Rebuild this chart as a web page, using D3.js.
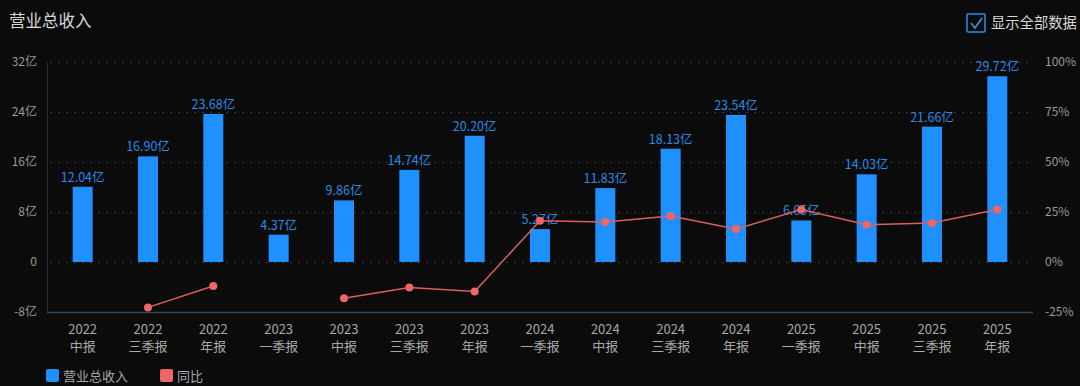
<!DOCTYPE html>
<html><head><meta charset="utf-8">
<script src="https://cdn.jsdelivr.net/npm/d3@7"></script>
<style>
html,body{margin:0;padding:0;background:#0b0b0b;}
svg{display:block;font-family:"Noto Sans CJK SC","Noto Sans",sans-serif;}
</style></head>
<body>
<svg id="c" width="1080" height="386"></svg>
<script>
const years = ["2022","2022","2022","2023","2023","2023","2023","2024","2024","2024","2024","2025","2025","2025","2025"];
const periods = ["中报","三季报","年报","一季报","中报","三季报","年报","一季报","中报","三季报","年报","一季报","中报","三季报","年报"];
const revenue = [12.04,16.90,23.68,4.37,9.86,14.74,20.20,5.27,11.83,18.13,23.54,6.65,14.03,21.66,29.72];
const yoy = [null,-22.7,-12.0,null,-18.1,-12.8,-14.7,20.6,20.0,23.0,16.5,26.2,18.6,19.5,26.3];
const leftTicks = [-8,0,8,16,24,32];
const rightTicks = [-25,0,25,50,75,100];

const svg = d3.select("#c");
svg.append("rect").attr("width",1080).attr("height",386).attr("fill","#0b0b0b");
const cats = years.map((y,i)=>i);
const x = d3.scaleBand().domain(cats).range([50,1030]);
const yL = d3.scaleLinear().domain([-8,32]).range([312,62]);
const yR = d3.scaleLinear().domain([-25,100]).range([312,62]);

// title
svg.append("text").attr("x",9).attr("y",27).attr("fill","#d8d8d8").attr("font-size",16.5).text("营业总收入");
// checkbox
svg.append("rect").attr("x",967).attr("y",14).attr("width",18).attr("height",18).attr("fill","none").attr("stroke","#2e8fe6").attr("stroke-width",1.5).attr("rx",1);
svg.append("path").attr("d","M971 23 L975 28 L982 18").attr("fill","none").attr("stroke","#2e8fe6").attr("stroke-width",1.8);
svg.append("text").attr("x",991).attr("y",28).attr("fill","#d8d8d8").attr("font-size",14.3).text("显示全部数据");

// grid
svg.append("g").selectAll("line").data(leftTicks.slice(1)).join("line")
  .attr("x1",50).attr("x2",1030).attr("y1",d=>yL(d)+0.5).attr("y2",d=>yL(d)+0.5)
  .attr("stroke","#3a3a3a").attr("stroke-dasharray","2,6");

// left axis
const gl = svg.append("g").attr("transform","translate(47,0)")
  .call(d3.axisLeft(yL).tickValues(leftTicks).tickSize(0).tickPadding(10).tickFormat(d=>d===0?"0":d+"亿"));
gl.select(".domain").attr("stroke","#26313d");
gl.selectAll("text").attr("fill","#9a9a9a").attr("font-size",12).attr("font-family","Noto Sans CJK SC");
// right axis
const gr = svg.append("g").attr("transform","translate(1033,0)")
  .call(d3.axisRight(yR).tickValues(rightTicks).tickSize(0).tickPadding(12).tickFormat(d=>d+"%"));
gr.select(".domain").remove();
gr.selectAll("text").attr("fill","#9a9a9a").attr("font-size",12).attr("font-family","Noto Sans CJK SC");
// bottom axis
const gb = svg.append("g").attr("transform","translate(0,312)")
  .call(d3.axisBottom(x).tickSize(0).tickFormat(()=>""));
gb.select(".domain").attr("stroke","#34485c").attr("stroke-width",1.5).attr("d","M47,0.5H1033");
gb.selectAll(".tick").each(function(d){
  const g = d3.select(this);
  g.append("text").attr("fill","#a8a8a8").attr("font-size",13).attr("text-anchor","middle").attr("font-family","Noto Sans CJK SC")
    .attr("y",22).text(years[d]);
  g.append("text").attr("fill","#a8a8a8").attr("font-size",13).attr("text-anchor","middle").attr("font-family","Noto Sans CJK SC")
    .attr("y",39).text(periods[d]);
});

// bars
const bw = 20;
svg.append("g").selectAll("rect").data(revenue).join("rect")
  .attr("x",(d,i)=>x(i)+x.bandwidth()/2-bw/2).attr("width",bw)
  .attr("y",d=>yL(d)).attr("height",d=>yL(0)-yL(d)).attr("fill","#1e90ff");
svg.append("g").selectAll("text").data(revenue).join("text")
  .attr("x",(d,i)=>x(i)+x.bandwidth()/2).attr("y",d=>yL(d)-5)
  .attr("text-anchor","middle").attr("font-size",12.5).attr("fill","#2a8ae8")
  .text(d=>d.toFixed(2)+"亿");

// line
const line = d3.line().defined(d=>d!=null).x((d,i)=>x(i)+x.bandwidth()/2).y(d=>yR(d));
svg.append("path").datum(yoy).attr("d",line).attr("fill","none").attr("stroke","#d9605e").attr("stroke-width",1.5);
svg.append("g").selectAll("circle").data(yoy.map((v,i)=>({v,i})).filter(d=>d.v!=null)).join("circle")
  .attr("cx",d=>x(d.i)+x.bandwidth()/2).attr("cy",d=>yR(d.v)).attr("r",4).attr("fill","#ee6666");

// legend
svg.append("rect").attr("x",46).attr("y",369).attr("width",13).attr("height",13).attr("rx",2).attr("fill","#1e90ff");
svg.append("text").attr("x",63).attr("y",381).attr("font-size",13).attr("fill","#a8a8a8").text("营业总收入");
svg.append("rect").attr("x",160).attr("y",369).attr("width",13).attr("height",13).attr("rx",2).attr("fill","#ee6666");
svg.append("text").attr("x",177).attr("y",381).attr("font-size",13).attr("fill","#a8a8a8").text("同比");
</script>
</body></html>
